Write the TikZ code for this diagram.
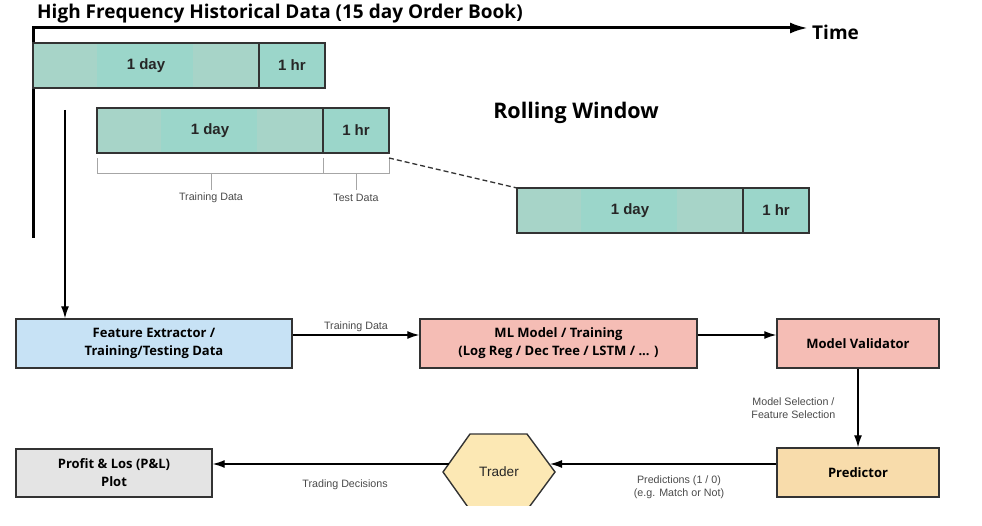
\documentclass[tikz,border=0pt]{standalone}
\usepackage{fontspec}
\setmainfont{Liberation Sans}
\newfontfamily\headfont{Open Sans}
\usetikzlibrary{arrows.meta,calc,positioning}
\definecolor{teallt}{HTML}{A7D4C8}
\definecolor{tealdk}{HTML}{9BD6CA}
\definecolor{feblue}{HTML}{C7E2F5}
\definecolor{mlpink}{HTML}{F5BDB5}
\definecolor{predorange}{HTML}{F8DCAB}
\definecolor{plgray}{HTML}{E4E4E4}
\definecolor{hexyellow}{HTML}{FCE8B4}
\definecolor{edgegray}{HTML}{333333}
\definecolor{labelgray}{HTML}{4A4A4A}

\begin{document}
\begin{tikzpicture}[x=1pt,y=-1pt,>=Latex,
  head/.style={font=\headfont\bfseries\fontsize{19}{22}\selectfont,inner sep=0pt},
  lbl/.style={font=\fontsize{10.7}{12.8}\selectfont,text=labelgray,align=center,inner sep=1pt},
  box/.style={draw=edgegray,line width=1.4pt,minimum height=49pt,align=center,
    font=\headfont\bfseries\fontsize{13}{18}\selectfont,inner sep=2pt},
  bartxt/.style={font=\bfseries\fontsize{15}{15}\selectfont,text=black!85},
  edge/.style={draw=edgegray,line width=1.4pt},
  bracket/.style={draw=black!35,line width=0.8pt},
  arr/.style={-{Latex[length=12pt,width=8pt]},line width=1.3pt}]
  \useasboundingbox (0,0) rectangle (982,526);
  % time axis
  \coordinate (origin) at (33,28);
  \coordinate (tend) at (808,28);
  \draw[line width=3pt,-{Latex[length=18pt,width=11pt]}] (33,238) -- (origin) -- (tend);
  \node[head,anchor=west] (title) at (37,14) {High Frequency Historical Data (15 day Order Book)};
  \node[head,anchor=west] (time) at (812,32) {Time};
  \node[head,font=\headfont\bfseries\fontsize{21.5}{24}\selectfont] (rolling) at (576,113) {Rolling Window};
  % windows
  \foreach \x/\y/\n in {33/43/a,97/108/b,517/188/c}{
    \fill[teallt] (\x,\y) rectangle ++(226,45);
    \fill[tealdk] (\x+64,\y) rectangle ++(96,45);
    \fill[tealdk] (\x+226,\y) rectangle ++(66,45);
    \draw[edge] (\x,\y) rectangle ++(292,45) (\x+226,\y) -- ++(0,45);
    \node[bartxt] (day\n) at (\x+113,\y+22.5) {1 day};
    \node[bartxt] (hr\n) at (\x+259,\y+22.5) {1 hr};
  }
  \draw[bracket] (97,158) |- (323,173) -- (323,158) (323,173) -| (389,158);
  \draw[bracket] (211,173) -- (211,190) (356,173) -- (356,190);
  \node[lbl] (traindata) at (211,198) {Training Data};
  \node[lbl] (testdata) at (356,198) {Test Data};
  \draw[edgegray,line width=1.3pt,dash pattern=on 5pt off 3pt] (389,158) -- (517,188);
  % pipeline
  \node[box,fill=feblue,minimum width=276pt] (fe) at (154,343.5) {Feature Extractor /\\Training/Testing Data};
  \node[box,fill=mlpink,minimum width=277pt,right=126.6pt of fe] (ml) {ML Model / Training\\(Log Reg / Dec Tree / LSTM / ... )};
  \node[box,fill=mlpink,minimum width=162pt,right=78.6pt of ml] (mv) {Model Validator};
  \node[box,fill=predorange,minimum width=162pt] (pr) at (858,472.5) {Predictor};
  \node[box,fill=plgray,minimum width=196pt,minimum height=48pt] (pl) at (114,473) {Profit \& Los (P\&L)\\Plot};
  \begin{scope}
    \clip (400,420) rectangle (600,505);
    \draw[edge,fill=hexyellow] (470,434) -- (527,434) -- (555,472) -- (527,510) -- (470,510) -- (443,472) -- cycle;
  \end{scope}
  \node[font=\fontsize{13.6}{15}\selectfont,text=black!85] (trader) at (499,472) {Trader};
  \coordinate (trR) at (550,464);
  \coordinate (trL) at (449,464);
  \coordinate (winstart) at (65,110);
  % connectors
  \draw[arr] (winstart) -- (winstart |- fe.north);
  \draw[arr] ([yshift=8.5pt]fe.east) -- node[lbl,above=2pt] {Training Data} ([yshift=8.5pt]ml.west);
  \draw[arr] ([yshift=8.5pt]ml.east) -- ([yshift=8.5pt]mv.west);
  \draw[arr] (mv) -- node[lbl,left=21pt] {Model Selection /\\Feature Selection} (pr);
  \draw[arr] (trR -| pr.west) -- node[lbl,below=10pt,pos=0.43] {Predictions (1 / 0)\\(e.g. Match or Not)} (trR);
  \draw[arr] (trL) -- node[lbl,below=14pt,pos=0.44] {Trading Decisions} (trL -| pl.east);
\end{tikzpicture}
\end{document}
